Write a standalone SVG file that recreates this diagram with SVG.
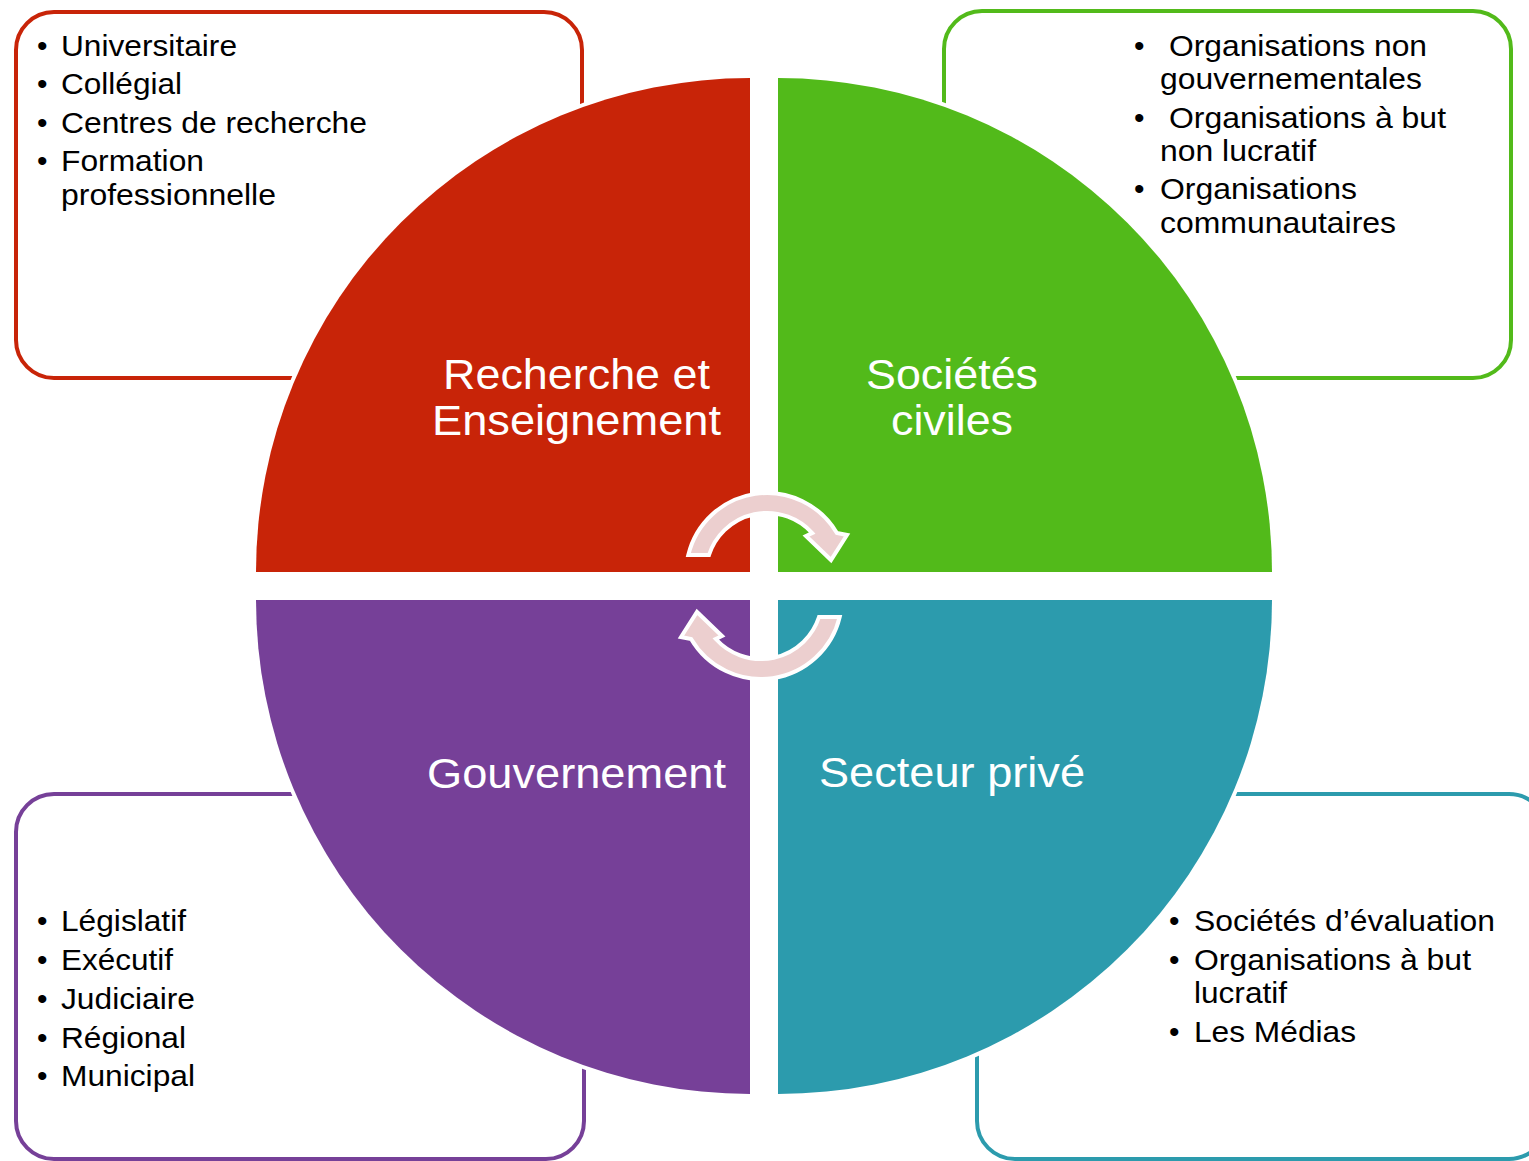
<svg xmlns="http://www.w3.org/2000/svg" width="1529" height="1161" viewBox="0 0 1529 1161">
<style>
.box{fill:#fff;stroke-width:4}
.q{stroke:#fff;stroke-width:8;paint-order:stroke}
.b{font-family:"Liberation Sans",Arial,sans-serif;font-size:30px;fill:#000}
.lbl{font-family:"Liberation Sans",Arial,sans-serif;font-size:43px;fill:#fff;text-anchor:middle}
.arr{fill:#ECCFCF;stroke:#fff;stroke-width:4;stroke-linejoin:miter}
</style>
<rect width="1529" height="1161" fill="#fff"/>
<g id="recherche">
<rect class="box" x="16" y="12" width="566" height="366" rx="38" stroke="#C82408"/>
<path class="q" fill="#C82408" d="M750,572 L256,572 A494,494 0 0 1 750,78 Z"/>
<text class="b" x="37" y="56">•</text><text class="b" x="61" y="56" textLength="176" lengthAdjust="spacingAndGlyphs">Universitaire</text>
<text class="b" x="37" y="94">•</text><text class="b" x="61" y="94" textLength="121" lengthAdjust="spacingAndGlyphs">Collégial</text>
<text class="b" x="37" y="133">•</text><text class="b" x="61" y="133" textLength="306" lengthAdjust="spacingAndGlyphs">Centres de recherche</text>
<text class="b" x="37" y="171">•</text><text class="b" x="61" y="171" textLength="143" lengthAdjust="spacingAndGlyphs">Formation</text>
<text class="b" x="61" y="205" textLength="215" lengthAdjust="spacingAndGlyphs">professionnelle</text>
<text class="lbl" x="576.5" y="389" textLength="267" lengthAdjust="spacingAndGlyphs">Recherche et</text>
<text class="lbl" x="576.5" y="435" textLength="289" lengthAdjust="spacingAndGlyphs">Enseignement</text>
</g>
<g id="societes">
<rect class="box" x="944" y="11" width="567" height="367" rx="38" stroke="#52BA1A"/>
<path class="q" fill="#52BA1A" d="M778,572 L778,78 A494,494 0 0 1 1272,572 Z"/>
<text class="b" x="1134" y="56">•</text><text class="b" x="1169" y="56" textLength="258" lengthAdjust="spacingAndGlyphs">Organisations non</text>
<text class="b" x="1160" y="89" textLength="262" lengthAdjust="spacingAndGlyphs">gouvernementales</text>
<text class="b" x="1134" y="128">•</text><text class="b" x="1169" y="128" textLength="277" lengthAdjust="spacingAndGlyphs">Organisations à but</text>
<text class="b" x="1160" y="161" textLength="156" lengthAdjust="spacingAndGlyphs">non lucratif</text>
<text class="b" x="1134" y="199">•</text><text class="b" x="1160" y="199" textLength="197" lengthAdjust="spacingAndGlyphs">Organisations</text>
<text class="b" x="1160" y="233" textLength="236" lengthAdjust="spacingAndGlyphs">communautaires</text>
<text class="lbl" x="952" y="389" textLength="172" lengthAdjust="spacingAndGlyphs">Sociétés</text>
<text class="lbl" x="952" y="435" textLength="122" lengthAdjust="spacingAndGlyphs">civiles</text>
</g>
<g id="gouvernement">
<rect class="box" x="16" y="794" width="568" height="365" rx="38" stroke="#764098"/>
<path class="q" fill="#764098" d="M750,600 L750,1094 A494,494 0 0 1 256,600 Z"/>
<text class="b" x="37" y="931">•</text><text class="b" x="61" y="931" textLength="125" lengthAdjust="spacingAndGlyphs">Législatif</text>
<text class="b" x="37" y="970">•</text><text class="b" x="61" y="970" textLength="112" lengthAdjust="spacingAndGlyphs">Exécutif</text>
<text class="b" x="37" y="1009">•</text><text class="b" x="61" y="1009" textLength="134" lengthAdjust="spacingAndGlyphs">Judiciaire</text>
<text class="b" x="37" y="1048">•</text><text class="b" x="61" y="1048" textLength="125" lengthAdjust="spacingAndGlyphs">Régional</text>
<text class="b" x="37" y="1086">•</text><text class="b" x="61" y="1086" textLength="134" lengthAdjust="spacingAndGlyphs">Municipal</text>
<text class="lbl" x="576.5" y="788" textLength="299" lengthAdjust="spacingAndGlyphs">Gouvernement</text>
</g>
<g id="prive">
<rect class="box" x="977" y="794" width="570" height="365" rx="38" stroke="#2C9BAD"/>
<path class="q" fill="#2C9BAD" d="M778,600 L1272,600 A494,494 0 0 1 778,1094 Z"/>
<text class="b" x="1169" y="931">•</text><text class="b" x="1194" y="931" textLength="301" lengthAdjust="spacingAndGlyphs">Sociétés d’évaluation</text>
<text class="b" x="1169" y="970">•</text><text class="b" x="1194" y="970" textLength="277" lengthAdjust="spacingAndGlyphs">Organisations à but</text>
<text class="b" x="1194" y="1003" textLength="93" lengthAdjust="spacingAndGlyphs">lucratif</text>
<text class="b" x="1169" y="1042">•</text><text class="b" x="1194" y="1042" textLength="162" lengthAdjust="spacingAndGlyphs">Les Médias</text>
<text class="lbl" x="952" y="787" textLength="266" lengthAdjust="spacingAndGlyphs">Secteur privé</text>
</g>
<g id="connectors">
<path id="arrow-top" class="arr" d="M688.3,555 A81,81 0 0 1 836.9,533 L847,535 L831,560 L806,536 L812.2,533 A61,61 0 0 0 709,555 Z"/>
<path id="arrow-bottom" class="arr" transform="rotate(180 764 586)" d="M688.3,555 A81,81 0 0 1 836.9,533 L847,535 L831,560 L806,536 L812.2,533 A61,61 0 0 0 709,555 Z"/>
</g>
</svg>
